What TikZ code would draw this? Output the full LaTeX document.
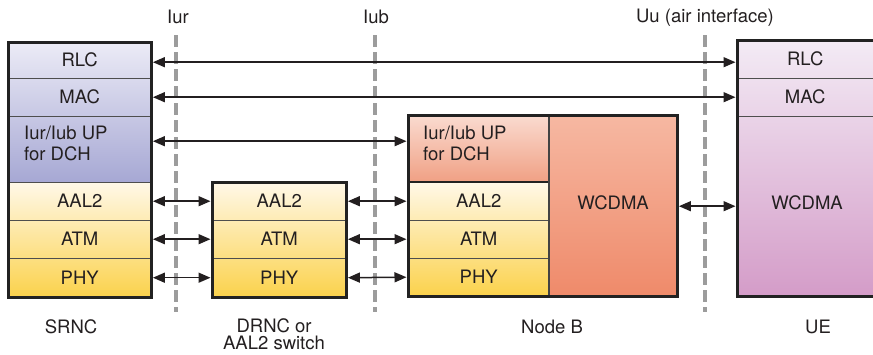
\documentclass[tikz,border=0pt]{standalone}
\usepackage{fontspec}
\setmainfont{TeX Gyre Heros}
\usetikzlibrary{arrows.meta}
\definecolor{txt}{HTML}{231F20}
\definecolor{lavL}{HTML}{ECEBF6}
\definecolor{lavD}{HTML}{A6A8D4}
\definecolor{yelL}{HTML}{FFF8E8}
\definecolor{yelD}{HTML}{FBD24C}
\definecolor{salL}{HTML}{FADBD0}
\definecolor{salD}{HTML}{F0A084}
\definecolor{wcL}{HTML}{F6B8A2}
\definecolor{wcD}{HTML}{EF8A6A}
\definecolor{ueL}{HTML}{F3EBF5}
\definecolor{ueD}{HTML}{D49CC8}
\definecolor{ifc}{HTML}{9C9C9C}
\definecolor{bord}{HTML}{222222}
\begin{document}
\begin{tikzpicture}[x=1pt,y=-1pt,
  lbl/.style={font=\fontsize{18.5}{20}\selectfont, text=txt, inner sep=0pt},
  rowbox/.style={rectangle, inner sep=0pt, anchor=north west, lbl},
  border/.style={draw=bord, line width=3pt},
  sep/.style={draw=bord!80, line width=0.9pt},
  iface/.style={draw=ifc, line width=4pt, dash pattern=on 12pt off 5pt},
  arr/.style={draw=txt, line width=1.5pt, {Triangle[length=12pt,width=10pt]}-{Triangle[length=12pt,width=10pt]}, shorten <=1.5pt, shorten >=1.5pt},
  diag/.style={shading angle=45}]
\useasboundingbox (0,0) rectangle (873,354);

% ---------- backgrounds ----------
\shade[diag, top color=lavL, bottom color=lavD] (8,42) rectangle (151,182);
\shade[diag, top color=yelL, bottom color=yelD] (8,182) rectangle (151,297);
\shade[diag, top color=yelL, bottom color=yelD] (212,182) rectangle (346,297);
\shade[diag, top color=salL, bottom color=salD] (408,115) rectangle (549,182);
\shade[diag, top color=yelL, bottom color=yelD] (408,182) rectangle (549,296);
\shade[diag, top color=wcL, bottom color=wcD] (549,115) rectangle (677,296);
\shade[diag, top color=ueL, bottom color=ueD] (737,40) rectangle (880,296);

% ---------- row nodes ----------
% SRNC
\node[rowbox, minimum width=143pt, minimum height=36pt] (s_rlc) at (8,42) {RLC};
\node[rowbox, minimum width=143pt, minimum height=38pt] (s_mac) at (8,78) {MAC};
\node[rowbox, minimum width=143pt, minimum height=66pt] (s_up) at (8,116) {};
\node[rowbox, minimum width=143pt, minimum height=38pt] (s_aal) at (8,182) {AAL2};
\node[rowbox, minimum width=143pt, minimum height=38pt] (s_atm) at (8,220) {ATM};
\node[rowbox, minimum width=143pt, minimum height=39pt] (s_phy) at (8,258) {PHY};
\node[lbl, anchor=west, align=left] (s_uptxt) at (24,143) {Iur/Iub UP\\[1pt]for DCH};
% DRNC
\node[rowbox, minimum width=134pt, minimum height=38pt] (d_aal) at (212,182) {AAL2};
\node[rowbox, minimum width=134pt, minimum height=38pt] (d_atm) at (212,220) {ATM};
\node[rowbox, minimum width=134pt, minimum height=39pt] (d_phy) at (212,258) {PHY};
% Node B
\node[rowbox, minimum width=141pt, minimum height=67pt] (n_up) at (408,115) {};
\node[rowbox, minimum width=141pt, minimum height=38pt] (n_aal) at (408,182) {AAL2};
\node[rowbox, minimum width=141pt, minimum height=38pt] (n_atm) at (408,220) {ATM};
\node[rowbox, minimum width=141pt, minimum height=38pt] (n_phy) at (408,258) {PHY};
\node[rowbox, minimum width=128pt, minimum height=181pt] (n_wc) at (549,115) {};
\node[lbl] (n_wctxt) at (613,203) {WCDMA};
\node[lbl, anchor=west, align=left] (n_uptxt) at (423,143) {Iur/Iub UP\\[1pt]for DCH};
% UE
\node[rowbox, minimum width=136pt, minimum height=38pt] (u_rlc) at (737,40) {RLC};
\node[rowbox, minimum width=136pt, minimum height=38pt] (u_mac) at (737,78) {MAC};
\node[rowbox, minimum width=136pt, minimum height=180pt] (u_wc) at (737,116) {};
\node[lbl] (u_wctxt) at (807,203) {WCDMA};

% ---------- separators and borders ----------
\draw[sep] (8,78) -- (151,78) (8,116) -- (151,116) (8,182) -- (151,182)
           (8,220) -- (151,220) (8,258) -- (151,258);
\draw[sep] (212,220) -- (346,220) (212,258) -- (346,258);
\draw[sep] (408,220) -- (549,220) (408,258) -- (549,258);
\draw[draw=bord, line width=2pt] (408,182) -- (549,182);
\draw[draw=bord!85, line width=1.3pt] (549,115) -- (549,296);
\draw[sep] (737,78) -- (880,78) (737,116) -- (880,116);
\draw[border] (8,42) rectangle (151,297);
\draw[border] (212,182) rectangle (346,297);
\draw[border] (408,115) rectangle (677,296);
\draw[border] (737,40) rectangle (880,296);

% ---------- interfaces ----------
\coordinate (iur_t) at (176,35); \coordinate (iur_b) at (176,312);
\coordinate (iub_t) at (374.5,35); \coordinate (iub_b) at (374.5,312);
\coordinate (uu_t) at (704.5,35); \coordinate (uu_b) at (704.5,312);
\draw[iface] (iur_t) -- (iur_b);
\draw[iface] (iub_t) -- (iub_b);
\draw[iface] (uu_t) -- (uu_b);
\node[lbl] (l_iur) at (178,17) {Iur};
\node[lbl] (l_iub) at (376,17) {Iub};
\node[lbl] (l_uu) at (705,18) {Uu (air interface)};

% ---------- arrows ----------
\draw[arr] ([yshift=-2pt]s_rlc.east) -- ([yshift=-2pt]s_rlc.east -| u_rlc.west);
\draw[arr] (s_mac.east) -- (s_mac.east -| u_mac.west);
\draw[arr] ([yshift=8pt]s_up.east) -- ([yshift=8pt]s_up.east -| n_up.west);
\draw[arr] (s_aal.east) -- (d_aal.west);
\draw[arr] (s_atm.east) -- (d_atm.west);
\draw[arr] (s_phy.east) -- (d_phy.west);
\draw[arr] (d_aal.east) -- (n_aal.west);
\draw[arr] (d_atm.east) -- (n_atm.west);
\draw[arr] (d_phy.east) -- (n_phy.west);
\draw[arr] ([yshift=-0.5pt]n_wc.east) -- ([yshift=-0.5pt]n_wc.east -| u_wc.west);

% ---------- captions ----------
\node[lbl] (c_srnc) at (71,327) {SRNC};
\node[lbl, align=center] (c_drnc) at (274,334) {DRNC or\\[-2.5pt]AAL2 switch};
\node[lbl] (c_nodeb) at (552,327) {Node B};
\node[lbl] (c_ue) at (818,327) {UE};
\end{tikzpicture}
\end{document}
